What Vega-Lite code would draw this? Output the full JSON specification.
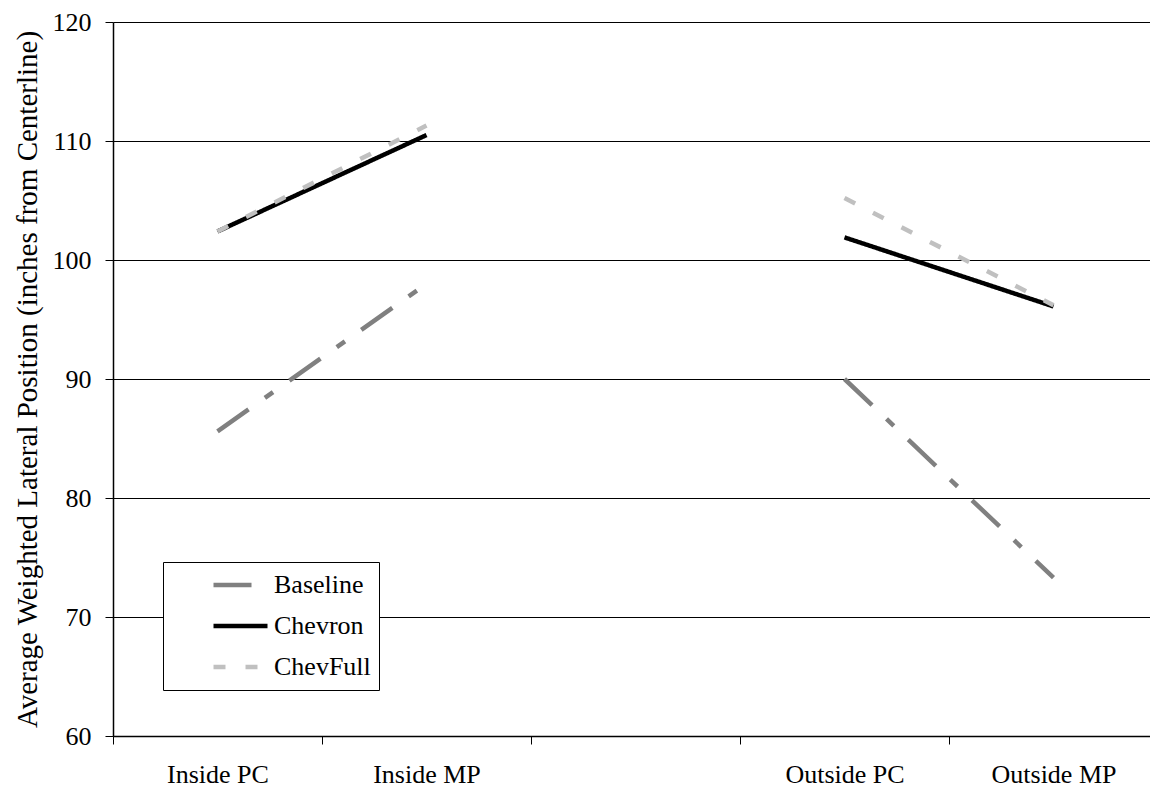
{
  "$schema": "https://vega.github.io/schema/vega-lite/v6.json",
  "autosize": {"type": "none"},
  "width": 1037,
  "height": 714,
  "padding": {"left": 113, "top": 22, "right": 0, "bottom": 52},
  "background": "white",
  "data": {
    "values": [
      {"series": "Baseline", "side": "Inside", "position": "Inside PC", "value": 85.6},
      {"series": "Baseline", "side": "Inside", "position": "Inside MP", "value": 98.0},
      {"series": "Baseline", "side": "Outside", "position": "Outside PC", "value": 90.0},
      {"series": "Baseline", "side": "Outside", "position": "Outside MP", "value": 73.3},
      {"series": "Chevron", "side": "Inside", "position": "Inside PC", "value": 102.4},
      {"series": "Chevron", "side": "Inside", "position": "Inside MP", "value": 110.5},
      {"series": "Chevron", "side": "Outside", "position": "Outside PC", "value": 101.9},
      {"series": "Chevron", "side": "Outside", "position": "Outside MP", "value": 96.1},
      {"series": "ChevFull", "side": "Inside", "position": "Inside PC", "value": 102.4},
      {"series": "ChevFull", "side": "Inside", "position": "Inside MP", "value": 111.3},
      {"series": "ChevFull", "side": "Outside", "position": "Outside PC", "value": 105.2},
      {"series": "ChevFull", "side": "Outside", "position": "Outside MP", "value": 96.2}
    ]
  },
  "mark": {"type": "line", "strokeWidth": 4.5, "strokeCap": "butt"},
  "encoding": {
    "x": {
      "field": "position",
      "type": "nominal",
      "scale": {
        "domain": ["Inside PC", "Inside MP", "gap", "Outside PC", "Outside MP"],
        "range": [0, 1045],
        "paddingInner": 0,
        "paddingOuter": 0
      },
      "axis": {
        "title": null,
        "labelAngle": 0,
        "tickBand": "extent",
        "labelExpr": "datum.value == 'gap' ? '' : datum.label",
        "labelPadding": 17,
        "grid": false
      }
    },
    "y": {
      "field": "value",
      "type": "quantitative",
      "scale": {"domain": [60, 120], "nice": false, "zero": false},
      "axis": {
        "title": "Average Weighted Lateral Position (inches from Centerline)",
        "values": [60, 70, 80, 90, 100, 110, 120],
        "grid": true,
        "labelPadding": 14,
        "titlePadding": 10,
        "titleFontSize": 29
      }
    },
    "detail": {"field": "side"},
    "color": {
      "field": "series",
      "type": "nominal",
      "title": null,
      "sort": null,
      "scale": {"domain": ["Baseline", "Chevron", "ChevFull"], "range": ["#808080", "#000000", "#c0c0c0"]}
    },
    "strokeDash": {
      "field": "series",
      "type": "nominal",
      "title": null,
      "sort": null,
      "scale": {"domain": ["Baseline", "Chevron", "ChevFull"], "range": [[38, 20, 10, 20], [1, 0], [12, 20]]}
    }
  },
  "config": {
    "view": {"stroke": null},
    "font": "Liberation Serif",
    "axis": {
      "domainColor": "#000000",
      "domainWidth": 1.5,
      "tickColor": "#000000",
      "tickWidth": 1,
      "tickSize": 8,
      "gridColor": "#000000",
      "gridWidth": 1,
      "gridOpacity": 1,
      "labelFont": "Liberation Serif",
      "labelFontSize": 26,
      "labelColor": "#000000",
      "titleFont": "Liberation Serif",
      "titleFontSize": 26,
      "titleFontWeight": "normal",
      "titleColor": "#000000"
    },
    "legend": {
      "orient": "none",
      "legendX": 50,
      "legendY": 540,
      "fillColor": "white",
      "strokeColor": "#000000",
      "padding": 8,
      "symbolType": "stroke",
      "symbolSize": 2916,
      "symbolStrokeWidth": 4.5,
      "symbolOffset": 40,
      "labelOffset": 4,
      "clipHeight": 30,
      "rowPadding": 11,
      "labelFont": "Liberation Serif",
      "labelFontSize": 26,
      "labelColor": "#000000",
      "labelLimit": 300
    }
  }
}
